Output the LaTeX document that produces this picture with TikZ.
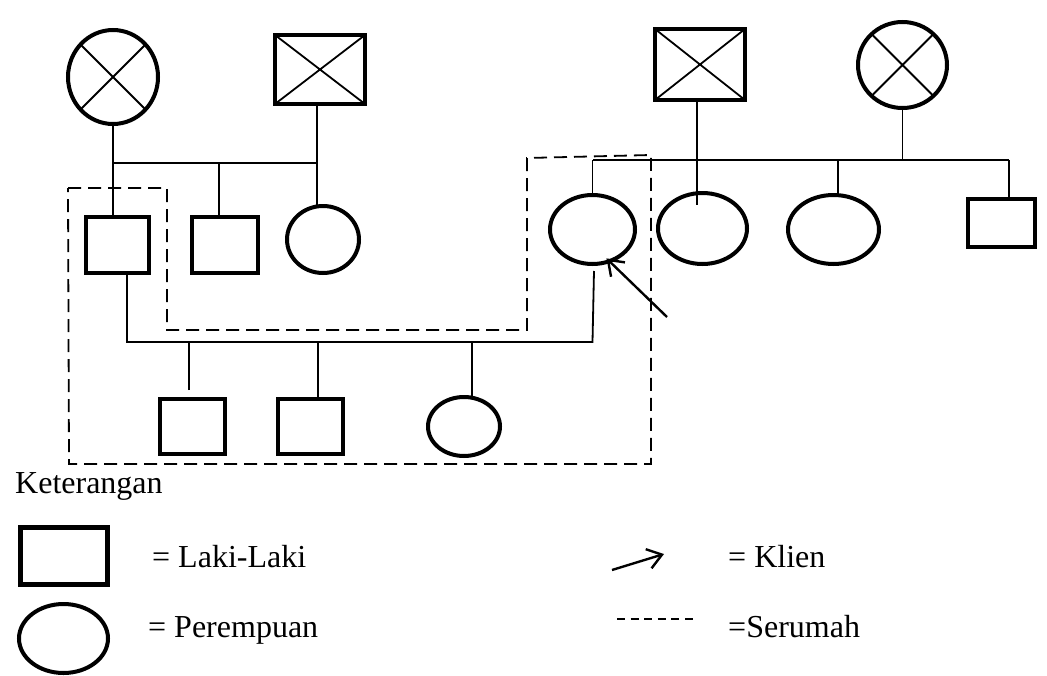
\documentclass[tikz,border=0pt]{standalone}
\usepackage{fontspec}
\setmainfont{Liberation Serif}
\usetikzlibrary{shapes.geometric,arrows.meta}

\begin{document}
\begin{tikzpicture}[x=1pt,y=-1pt,
  person/.style={draw,line width=4pt,inner sep=0pt,outer sep=0pt},
  male/.style={person,rectangle},
  female/.style={person,ellipse},
  sz/.style 2 args={minimum width=#1pt,minimum height=#2pt},
  link/.style={line width=1.8pt},
  cross/.style={line width=1.8pt},
  house/.style={line width=1.8pt,dash pattern=on 13pt off 7pt},
  legendtext/.style={font=\fontsize{32}{38}\selectfont,inner sep=0pt,anchor=base west},
  pointer/.style={line width=2.4pt,-{Straight Barb[length=14pt,width=20pt]}}
]
\useasboundingbox (0,0) rectangle (1047,675);

% grandparents (deceased)
\node[female,sz={90}{94}] (gmA) at (113,77) {};
\node[male,sz={90}{69}] (gfA) at (320,69.5) {};
\node[male,sz={90}{71}] (gfB) at (700,64.5) {};
\node[female,sz={89}{86}] (gmB) at (902.5,65) {};

\draw[cross] (gmA.135) -- (gmA.-45) (gmA.45) -- (gmA.-135);
\draw[cross] (gmB.135) -- (gmB.-45) (gmB.45) -- (gmB.-135);
\draw[cross] (gfA.north west) -- (gfA.south east) (gfA.south west) -- (gfA.north east);
\draw[cross] (gfB.north west) -- (gfB.south east) (gfB.south west) -- (gfB.north east);

% second generation
\node[male,sz={63}{56}] (dad) at (117.5,245) {};
\node[male,sz={66}{56}] (unc) at (225,245) {};
\node[female,sz={72}{67}] (aunt) at (323,239.5) {};
\node[female,sz={85}{69}] (klien) at (592.5,229.5) {};
\node[female,sz={89}{71}] (sisA) at (702.5,228.5) {};
\node[female,sz={91}{69}] (sisB) at (833.5,229.5) {};
\node[male,sz={67}{48}] (bro) at (1001.5,223) {};

% third generation
\node[male,sz={65}{55}] (kidA) at (192.5,426.5) {};
\node[male,sz={65}{55}] (kidB) at (310.5,426.5) {};
\node[female,sz={72}{59}] (kidC) at (464,426.5) {};

% father's family
\coordinate (sibA) at (113,163);
\draw[link] (gmA.south) -- (gmA.south |- dad.north);
\draw[link] ([xshift=-3pt]gfA.south) -- ([xshift=-3pt]gfA.south |- aunt.north);
\draw[link] (sibA) -- ([xshift=-3pt]sibA -| gfA.south);
\draw[link] ([xshift=-6pt]unc.north) -- ([xshift=-6pt]unc.north |- sibA);

% mother's family
\coordinate (sibB) at (593,160);
\draw[link] ([xshift=-3pt]gfB.south) -- ([xshift=-3pt]gfB.south |- sisA.north) -- ++(0,12);
\draw[link] (gmB.south) -- (gmB.south |- sibB);
\draw[link] (sibB) -- ([xshift=7.5pt]sibB -| bro.north);
\draw[link] (klien.north) -- (klien.north |- sibB);
\draw[link] ([xshift=4.5pt]sisB.north) -- ([xshift=4.5pt]sisB.north |- sibB);
\draw[link] ([xshift=7.5pt]bro.north) -- ([xshift=7.5pt]bro.north |- sibB);

% marriage and children
\coordinate (mar) at (127,342);
\draw[link] ([xshift=9.5pt]dad.south) -- (mar) -- (mar -| klien.south) -- ([xshift=1.5pt,yshift=-7pt]klien.south);
\draw[link] ([xshift=-3.5pt,yshift=9pt]kidA.north) -- ([xshift=-3.5pt]kidA.north |- mar);
\draw[link] ([xshift=7.5pt]kidB.north) -- ([xshift=7.5pt]kidB.north |- mar);
\draw[link] ([xshift=8pt]kidC.north) -- ([xshift=8pt]kidC.north |- mar);

% client pointer
\coordinate (ptrTail) at (667,317);
\draw[pointer,shorten >=-4pt] (ptrTail) -- (klien.-62);

% household boundary
\draw[house] (68,188) -- (167,188) -- (167,330) -- (527,330) -- (527,158)
  -- (651,155) -- (651,464) -- (69,464) -- cycle;

% legend
\node[legendtext] (ket) at (15,493) {Keterangan};
\node[male,line width=5pt,sz={87}{57}] (lgM) at (64,556) {};
\node[female,sz={89}{69}] (lgF) at (63.5,638.5) {};
\node[legendtext] (tM) at (152,567) {= Laki-Laki};
\node[legendtext] (tF) at (148,637) {= Perempuan};
\coordinate (lgArrowA) at (612,570);
\coordinate (lgArrowB) at (664,554);
\draw[pointer] (lgArrowA) -- (lgArrowB);
\node[legendtext] (tK) at (728,567) {= Klien};
\coordinate (lgDashA) at (617,619);
\coordinate (lgDashB) at (693,619);
\draw[line width=1.5pt,dash pattern=on 8pt off 5.6pt] (lgDashA) -- (lgDashB);
\node[legendtext] (tS) at (728,637) {=Serumah};
\end{tikzpicture}
\end{document}
